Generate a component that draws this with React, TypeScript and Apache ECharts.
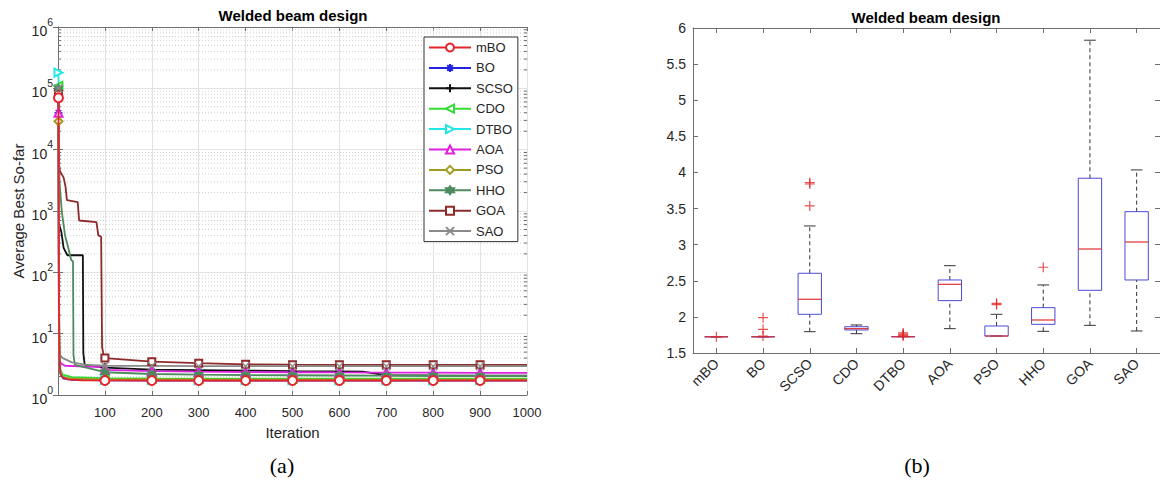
import React, { useEffect, useRef } from 'react';
import * as echarts from 'echarts';

const FONT = 'Liberation Sans, Arial, Helvetica, sans-serif';
const TXT = '#262626';
const AX = '#6e6e6e';

// ---------------- Convergence (a) ----------------
const seriesNames = ['mBO', 'BO', 'SCSO', 'CDO', 'DTBO', 'AOA', 'PSO', 'HHO', 'GOA', 'SAO'];
const seriesColors = ['#e3262b', '#2323e0', '#111111', '#33dd33', '#22e5e5', '#e020e0', '#a09a20', '#4d8a5e', '#8e2a2a', '#8a8a8a'];
const markerIters = [1, 100, 200, 300, 400, 500, 600, 700, 800, 900];

const mBO = [[1, 70000], [2, 30], [3, 4.2], [5, 2.3], [10, 1.95], [20, 1.8], [50, 1.74], [100, 1.728], [200, 1.725], [300, 1.725], [400, 1.725], [500, 1.725], [600, 1.725], [700, 1.725], [800, 1.725], [900, 1.725], [1000, 1.725]];
const BO = [[1, 40000], [2, 12], [3, 3.2], [6, 2.1], [12, 1.85], [30, 1.76], [100, 1.727], [200, 1.725], [300, 1.725], [400, 1.725], [500, 1.725], [600, 1.725], [700, 1.725], [800, 1.725], [900, 1.725], [1000, 1.725]];
const SCSO = [[1, 95000], [2, 600], [4, 550], [7, 460], [12, 250], [20, 190], [53, 190], [54, 4.8], [57, 3.1], [100, 2.8], [200, 2.6], [300, 2.55], [400, 2.5], [500, 2.45], [600, 2.42], [650, 2.4], [700, 2.1], [800, 2.08], [900, 2.07], [1000, 2.07]];
const CDO = [[1, 110000], [2, 40], [3, 5], [5, 2.6], [10, 2.15], [30, 1.95], [100, 1.88], [200, 1.86], [300, 1.85], [400, 1.85], [500, 1.85], [600, 1.85], [700, 1.85], [800, 1.85], [900, 1.85], [1000, 1.85]];
const DTBO = [[1, 180000], [2, 25], [3, 3.8], [5, 2.4], [10, 2.0], [30, 1.82], [100, 1.77], [200, 1.76], [300, 1.75], [400, 1.75], [500, 1.75], [600, 1.75], [700, 1.75], [800, 1.75], [900, 1.75], [1000, 1.75]];
const AOA = [[1, 40000], [2, 8], [3, 3.8], [6, 3.3], [15, 3.0], [60, 2.9], [95, 2.85], [100, 2.56], [200, 2.45], [300, 2.4], [400, 2.37], [500, 2.35], [600, 2.33], [700, 2.32], [800, 2.31], [900, 2.3], [1000, 2.3]];
const PSO = [[1, 29000], [2, 15], [3, 3.3], [5, 2.2], [10, 1.95], [30, 1.85], [100, 1.8], [200, 1.79], [300, 1.78], [400, 1.78], [500, 1.78], [600, 1.78], [700, 1.78], [800, 1.78], [900, 1.78], [1000, 1.78]];
const HHO = [[1, 100000], [2, 5000], [4, 2500], [8, 1000], [15, 400], [22, 250], [28, 160], [32, 150], [33, 4.5], [36, 3.1], [100, 2.35], [200, 2.2], [300, 2.15], [400, 2.12], [500, 2.1], [600, 2.08], [700, 2.07], [800, 2.06], [900, 2.05], [1000, 2.05]];
const GOA = [[1, 80000], [2, 6000], [4, 4500], [12, 3500], [16, 2500], [19, 1500], [42, 1400], [45, 700], [82, 660], [86, 400], [92, 380], [94, 6], [97, 4.6], [100, 4.0], [200, 3.5], [300, 3.3], [400, 3.16], [500, 3.12], [600, 3.1], [700, 3.1], [800, 3.1], [900, 3.1], [1000, 3.1]];
const SAO = [[1, 100000], [2, 80], [3, 8], [4, 4.5], [10, 4.0], [30, 3.4], [60, 3.1], [100, 3.0], [200, 2.98], [300, 2.96], [400, 2.95], [500, 2.95], [600, 2.95], [700, 2.95], [800, 2.95], [900, 2.95], [1000, 2.95]];
const seriesPoints = [mBO, BO, SCSO, CDO, DTBO, AOA, PSO, HHO, GOA, SAO];

const seriesSymbols = [
  'emptyCircle',
  'path://M5,0L5,10M0,5L10,5M1.5,1.5L8.5,8.5M8.5,1.5L1.5,8.5',
  'path://M5,0L5,10M0,5L10,5',
  'emptyTriangle',
  'emptyTriangle',
  'emptyTriangle',
  'emptyDiamond',
  'path://M5,0L9.33,7.5L0.67,7.5ZM5,10L0.67,2.5L9.33,2.5Z',
  'emptyRect',
  'path://M1,1L9,9M9,1L1,9',
];
const seriesRotate = [0, 0, 0, 90, -90, 0, 0, 0, 0, 0];
const seriesSymbolSize = [9, 8, 9, 8, 8, 8, 8, 8, 7, 8];

// ---------------- Boxplot (b) ----------------
const boxCategories = ['mBO', 'BO', 'SCSO', 'CDO', 'DTBO', 'AOA', 'PSO', 'HHO', 'GOA', 'SAO'];
const boxMin = [1.7249, 1.7249, 1.795, 1.767, 1.7249, 1.837, 1.735, 1.8, 1.883, 1.805];
const boxQ1 = [1.7249, 1.7249, 2.036, 1.819, 1.7249, 2.225, 1.735, 1.897, 2.368, 2.511];
const boxMedian = [1.7249, 1.7249, 2.244, 1.837, 1.7249, 2.451, 1.735, 1.957, 2.94, 3.037];
const boxQ3 = [1.7249, 1.7249, 2.604, 1.864, 1.728, 2.511, 1.874, 2.128, 3.92, 3.457];
const boxMax = [1.7249, 1.7249, 3.259, 1.888, 1.73, 2.709, 2.036, 2.442, 5.831, 4.035];
const outlierCat = [0, 1, 1, 1, 2, 2, 2, 4, 4, 4, 4, 6, 6, 7];
const outlierVal = [1.7249, 1.735, 1.828, 1.989, 3.84, 3.86, 3.536, 1.735, 1.748, 1.762, 1.778, 2.17, 2.188, 2.687];

const minorGridVals: number[] = [];
for (let k = 0; k < 6; k++) for (let m = 2; m <= 9; m++) minorGridVals.push(m * Math.pow(10, k));

function buildOption(): any {
  const lineSeries = seriesNames.map((name, i) => ({
    name,
    type: 'line',
    xAxisIndex: 0,
    yAxisIndex: 0,
    z: i === 0 ? 5 : 3,
    showAllSymbol: true,
    symbol: seriesSymbols[i],
    symbolSize: seriesSymbolSize[i],
    symbolRotate: seriesRotate[i],
    lineStyle: { color: seriesColors[i], width: 1.8 },
    itemStyle: { color: seriesColors[i], borderColor: seriesColors[i], borderWidth: 1.3 },
    emphasis: { disabled: true },
    data: seriesPoints[i].map(([x, y]) =>
      markerIters.includes(x) ? { value: [x, y] } : { value: [x, y], symbol: 'none' }
    ),
  }));

  const minorGrid = {
    type: 'custom',
    xAxisIndex: 0,
    yAxisIndex: 0,
    z: 1,
    silent: true,
    clip: false,
    data: minorGridVals.map((v) => [0, v]),
    renderItem: (params: any, api: any) => {
      const y = api.coord([0, api.value(1)])[1];
      const cs = params.coordSys;
      return {
        type: 'group',
        children: [
          { type: 'line', shape: { x1: cs.x, y1: y, x2: cs.x + cs.width, y2: y }, style: { stroke: '#d0d0d0', lineWidth: 1, lineDash: [1, 2] } },
          { type: 'line', shape: { x1: cs.x, y1: y, x2: cs.x + 3, y2: y }, style: { stroke: AX, lineWidth: 1 } },
          { type: 'line', shape: { x1: cs.x + cs.width - 3, y1: y, x2: cs.x + cs.width, y2: y }, style: { stroke: AX, lineWidth: 1 } },
        ],
      };
    },
  };

  const boxSeries = {
    type: 'custom',
    xAxisIndex: 2,
    yAxisIndex: 2,
    z: 3,
    silent: true,
    data: boxCategories.map((_, i) => [i, boxMin[i], boxQ1[i], boxMedian[i], boxQ3[i], boxMax[i]]),
    encode: { x: 0, y: [1, 2, 3, 4, 5] },
    renderItem: (params: any, api: any) => {
      const i = api.value(0);
      const x = api.coord([i, api.value(1)])[0];
      const yMin = api.coord([i, api.value(1)])[1];
      const yQ1 = api.coord([i, api.value(2)])[1];
      const yMed = api.coord([i, api.value(3)])[1];
      const yQ3 = api.coord([i, api.value(4)])[1];
      const yMax = api.coord([i, api.value(5)])[1];
      const band = api.size([1, 0])[0];
      const bw = band * 0.5;
      const cw = bw * 0.5;
      const dash = { stroke: '#333', lineWidth: 1, lineDash: [4, 3] };
      const solid = { stroke: '#333', lineWidth: 1 };
      return {
        type: 'group',
        children: [
          { type: 'line', shape: { x1: x, y1: yQ3, x2: x, y2: yMax }, style: dash },
          { type: 'line', shape: { x1: x, y1: yMin, x2: x, y2: yQ1 }, style: dash },
          { type: 'line', shape: { x1: x - cw / 2, y1: yMax, x2: x + cw / 2, y2: yMax }, style: solid },
          { type: 'line', shape: { x1: x - cw / 2, y1: yMin, x2: x + cw / 2, y2: yMin }, style: solid },
          { type: 'rect', shape: { x: x - bw / 2, y: yQ3, width: bw, height: Math.max(yQ1 - yQ3, 0.01) }, style: { fill: 'none', stroke: '#4a4ad8', lineWidth: 1 } },
          { type: 'line', shape: { x1: x - bw / 2, y1: yMed, x2: x + bw / 2, y2: yMed }, style: { stroke: '#e03030', lineWidth: 1.2 } },
        ],
      };
    },
  };

  const outlierSeries = {
    type: 'scatter',
    xAxisIndex: 2,
    yAxisIndex: 2,
    z: 4,
    silent: true,
    symbol: 'path://M4.4,0H5.6V4.4H10V5.6H5.6V10H4.4V5.6H0V4.4H4.4Z',
    symbolSize: 10,
    itemStyle: { color: '#e02525' },
    data: outlierCat.map((c, i) => [c, outlierVal[i]]),
  };

  const yLabelRich = {
    a: { fontSize: 14, color: TXT, fontFamily: FONT, lineHeight: 22, verticalAlign: 'bottom' },
    b: { fontSize: 10.5, color: TXT, fontFamily: FONT, lineHeight: 14, verticalAlign: 'top' },
  };

  return {
    animation: false,
    backgroundColor: '#ffffff',
    textStyle: { fontFamily: FONT },
    grid: [
      { left: 58, top: 27, width: 469, height: 368 },
      { left: 693, top: 28, width: 467, height: 325 },
    ],
    legend: {
      data: seriesNames,
      orient: 'vertical',
      left: 424,
      top: 37,
      itemWidth: 42,
      itemHeight: 10,
      itemGap: 7.4,
      padding: [4, 5, 4, 4],
      borderColor: '#333',
      borderWidth: 1,
      backgroundColor: '#fff',
      selectedMode: false,
      textStyle: { fontSize: 13, color: TXT, fontFamily: FONT },
    },
    xAxis: [
      {
        gridIndex: 0, type: 'value', min: 0, max: 1000, interval: 100, position: 'bottom',
        name: 'Iteration', nameLocation: 'middle', nameGap: 30,
        nameTextStyle: { fontSize: 15, color: TXT, fontFamily: FONT },
        axisLine: { show: true, lineStyle: { color: AX } },
        axisTick: { show: true, inside: true, length: 4, lineStyle: { color: AX } },
        axisLabel: { fontSize: 13, color: TXT, margin: 11, fontFamily: FONT, formatter: (v: number) => (v === 0 ? '' : String(v)) },
        splitLine: { show: true, lineStyle: { color: '#e2e2e2' } },
      },
      {
        gridIndex: 0, type: 'value', min: 0, max: 1000, interval: 100, position: 'top',
        axisLine: { show: true, lineStyle: { color: AX } },
        axisTick: { show: true, inside: true, length: 4, lineStyle: { color: AX } },
        axisLabel: { show: false },
        splitLine: { show: false },
      },
      {
        gridIndex: 1, type: 'category', data: boxCategories, boundaryGap: true, position: 'bottom',
        axisLine: { show: true, lineStyle: { color: AX } },
        axisTick: { show: true, inside: true, length: 5, alignWithLabel: true, lineStyle: { color: AX } },
        axisLabel: { fontSize: 14, color: TXT, rotate: 45, margin: 8, fontFamily: FONT, interval: 0 },
        splitLine: { show: false },
      },
      {
        gridIndex: 1, type: 'category', data: boxCategories, boundaryGap: true, position: 'top',
        axisLine: { show: true, lineStyle: { color: AX } },
        axisTick: { show: true, inside: true, length: 5, alignWithLabel: true, lineStyle: { color: AX } },
        axisLabel: { show: false },
        splitLine: { show: false },
      },
    ],
    yAxis: [
      {
        gridIndex: 0, type: 'log', logBase: 10, min: 1, max: 1000000, position: 'left',
        name: 'Average Best So-far', nameLocation: 'middle', nameGap: 32,
        nameTextStyle: { fontSize: 15, color: TXT, fontFamily: FONT },
        axisLine: { show: true, lineStyle: { color: AX } },
        axisTick: { show: true, inside: true, length: 5, lineStyle: { color: AX } },
        axisLabel: {
          margin: 5,
          formatter: (v: number) => `{a|10}{b|${Math.round(Math.log10(v))}}`,
          rich: yLabelRich,
        },
        splitLine: { show: true, lineStyle: { color: '#e2e2e2' } },
      },
      {
        gridIndex: 0, type: 'log', logBase: 10, min: 1, max: 1000000, position: 'right',
        axisLine: { show: true, lineStyle: { color: AX } },
        axisTick: { show: true, inside: true, length: 5, lineStyle: { color: AX } },
        axisLabel: { show: false },
        splitLine: { show: false },
      },
      {
        gridIndex: 1, type: 'value', min: 1.5, max: 6, interval: 0.5, position: 'left',
        axisLine: { show: true, lineStyle: { color: AX } },
        axisTick: { show: true, inside: true, length: 5, lineStyle: { color: AX } },
        axisLabel: { fontSize: 14, color: TXT, margin: 7, fontFamily: FONT },
        splitLine: { show: false },
      },
      {
        gridIndex: 1, type: 'value', min: 1.5, max: 6, interval: 0.5, position: 'right',
        axisLine: { show: true, lineStyle: { color: AX } },
        axisTick: { show: true, inside: true, length: 5, lineStyle: { color: AX } },
        axisLabel: { show: false },
        splitLine: { show: false },
      },
    ],
    graphic: [
      { type: 'text', x: 293, y: 15, style: { text: 'Welded beam design', font: `bold 15px ${FONT}`, fill: '#000', textAlign: 'center', textVerticalAlign: 'middle' } },
      { type: 'text', x: 926, y: 17, style: { text: 'Welded beam design', font: `bold 15px ${FONT}`, fill: '#000', textAlign: 'center', textVerticalAlign: 'middle' } },
      { type: 'text', x: 282, y: 465, style: { text: '(a)', font: '22px Liberation Serif, Times New Roman, serif', fill: '#000', textAlign: 'center', textVerticalAlign: 'middle' } },
      { type: 'text', x: 917, y: 465, style: { text: '(b)', font: '22px Liberation Serif, Times New Roman, serif', fill: '#000', textAlign: 'center', textVerticalAlign: 'middle' } },
    ],
    series: [minorGrid, ...lineSeries, boxSeries, outlierSeries],
  };
}

export default function App() {
  const ref = useRef<HTMLDivElement>(null);
  useEffect(() => {
    document.body.style.margin = '0';
    const chart = echarts.init(ref.current as HTMLDivElement, null, { renderer: 'svg' });
    chart.setOption(buildOption());
    return () => chart.dispose();
  }, []);
  return <div ref={ref} style={{ width: 1160, height: 480 }} />;
}
